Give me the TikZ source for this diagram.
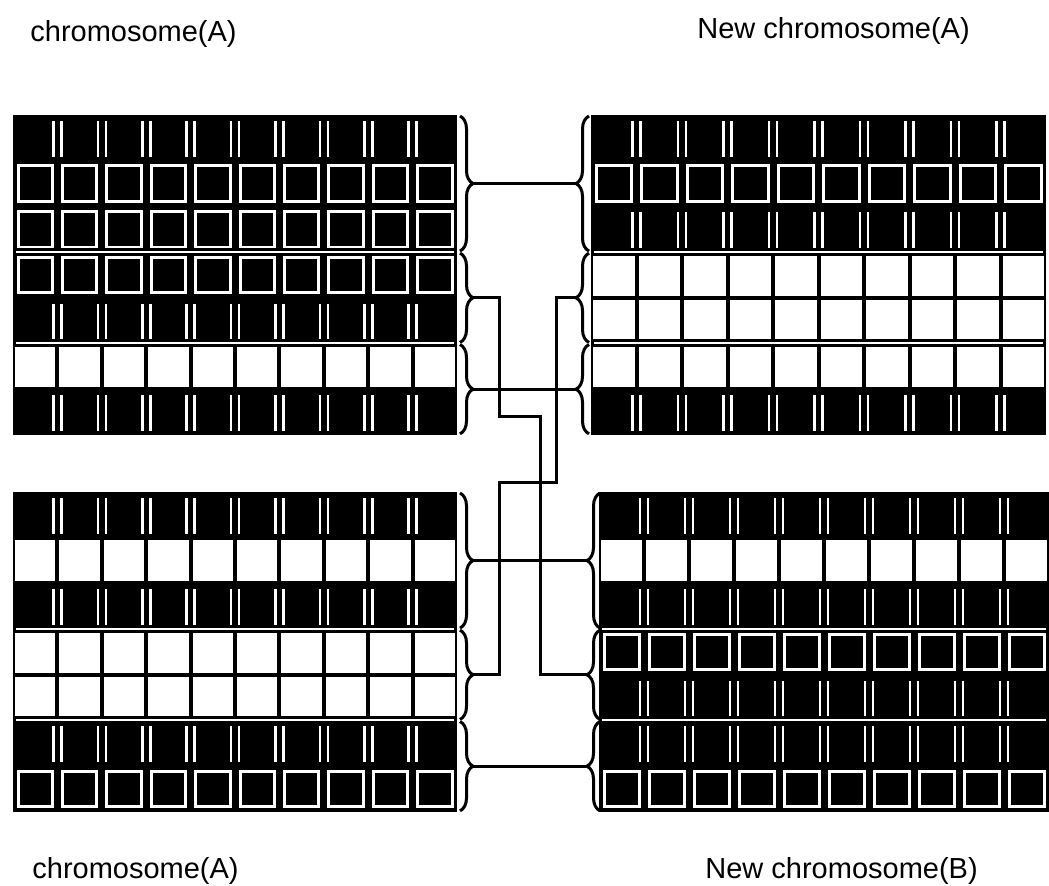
\documentclass[tikz,border=0pt]{standalone}
\usepackage{fontspec}
\setmainfont{Liberation Sans}
\usetikzlibrary{positioning, decorations.pathreplacing}

\def\rowh{45.7}

% one block of genes: x and y of the top left corner, cell width, kinds of the rows
% (b = dark row with bars, q = dark boxes, w = white cells)
\newcommand{\chromgrid}[4]{%
  \fill[black] (#1,#2) rectangle ++(10*#3,7*\rowh);
  \foreach \kind [count=\r from 0] in {#4} {
    \pgfmathsetmacro{\yt}{#2+\r*\rowh}
    \foreach \c in {0,...,9} {
      \pgfmathsetmacro{\xl}{#1+\c*#3}
      \if w\kind
        \fill[white] (\xl+2,\yt+2) rectangle (\xl+#3-2,\yt+\rowh-2);
      \fi
      \if q\kind
        \draw[white, line width=1.5pt] (\xl+5,\yt+5) rectangle (\xl+#3-5,\yt+\rowh-5);
      \fi
      \if b\kind
        \ifnum\c>0
          \draw[white, line width=1.3pt] (\xl-4,\yt+6) -- (\xl-4,\yt+\rowh-4)
                                         (\xl+4,\yt+6) -- (\xl+4,\yt+\rowh-4);
        \fi
      \fi
    }
  }
  % cuts between the groups of rows
  \foreach \g in {3,5} {
    \fill[black] (#1,#2+\g*\rowh-4) rectangle (#1+10*#3,#2+\g*\rowh+4);
    \draw[white, line width=1pt] (#1+3,#2+\g*\rowh) -- (#1+10*#3-3,#2+\g*\rowh);
  }
}

\begin{document}
\begin{tikzpicture}[x=0.5pt, y=-0.5pt,
    bracer/.style={decorate, decoration={brace, amplitude=6.5pt}, line width=1.5pt},
    bracel/.style={decorate, decoration={brace, mirror, amplitude=6.5pt}, line width=1.5pt},
    link/.style={line width=1.5pt},
    lbl/.style={font=\fontsize{14.5}{17}\selectfont, anchor=base west, inner sep=0pt}]
    \useasboundingbox (0,0) rectangle (1049,886);

    % the four blocks
    \chromgrid{13}{115}{44.4}{b,q,q,q,b,w,b}
    \chromgrid{591}{115}{45.5}{b,q,b,w,w,w,b}
    \chromgrid{13}{492}{44.4}{b,w,b,w,w,b,q}
    \chromgrid{599}{492}{45}{b,w,b,q,b,b,q}

    % braces on the left blocks
    \foreach \g/\ya/\yb in {1/0/3, 2/3/5, 3/5/7} {
        \draw[bracer] (460,115+\ya*\rowh+1) -- node[coordinate, xshift=6.5pt] (tl\g) {} (460,115+\yb*\rowh-1);
        \draw[bracer] (460,492+\ya*\rowh+1) -- node[coordinate, xshift=6.5pt] (bl\g) {} (460,492+\yb*\rowh-1);
    }
    % braces on the right blocks
    \foreach \g/\ya/\yb in {1/0/3, 2/3/5, 3/5/7} {
        \draw[bracel] (589,115+\ya*\rowh+1) -- node[coordinate, xshift=-6.5pt] (tr\g) {} (589,115+\yb*\rowh-1);
        \draw[bracel] (600,492+\ya*\rowh+1) -- node[coordinate, xshift=-6.5pt] (br\g) {} (600,492+\yb*\rowh-1);
    }

    % titles
    \node[lbl] (oldtop) at (30,42) {chromosome(A)};
    \node[lbl] (newtop) at (697,39) {New chromosome(A)};
    \node[lbl] (oldbot) at (32,878) {chromosome(A)};
    \node[lbl] (newbot) at (705,878) {New chromosome(B)};

    % crossing of the groups
    \draw[link] (tl1) -- (tr1);
    \draw[link] (tl3) -- (tr3);
    \draw[link] (bl1) -- (br1);
    \draw[link] (bl3) -- (br3);
    \draw[link] (tl2) -- ++(26,0) |- (540,417) |- (br2);
    \draw[link] (tr2) -- ++(-20,0) |- (499,483) |- (bl2);
\end{tikzpicture}
\end{document}
